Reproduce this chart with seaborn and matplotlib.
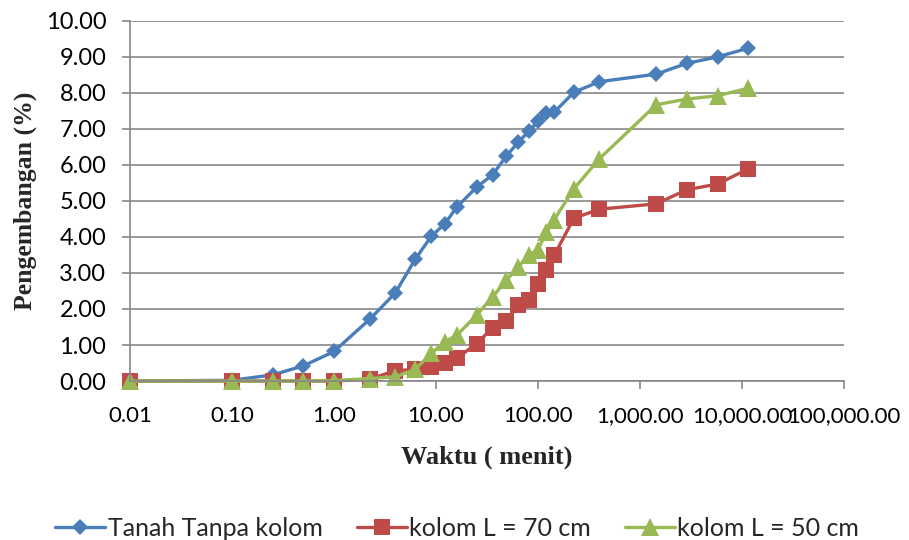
import numpy as np
import pandas as pd
import matplotlib
matplotlib.use('Agg')
import matplotlib.pyplot as plt
import seaborn as sns
from matplotlib.ticker import FixedLocator, FixedFormatter, NullLocator

# data
waktu = [0.01, 0.1, 0.25, 0.5, 1, 2.25, 4, 6.25, 9, 12.25, 16, 25, 36, 49, 64, 81,
         100, 121, 144, 225, 400, 1440, 2880, 5760, 11520]
tanpa_kolom = [0, 0.02, 0.17, 0.42, 0.82, 1.72, 2.45, 3.38, 4.02, 4.37, 4.83, 5.38, 5.73,
               6.25, 6.63, 6.93, 7.21, 7.43, 7.46, 8.02, 8.31, 8.52, 8.82, 9.0, 9.24]
kolom_70 = [0, 0, 0, 0, 0, 0.05, 0.29, 0.32, 0.39, 0.49, 0.63, 1.04, 1.48, 1.66, 2.1,
            2.26, 2.69, 3.07, 3.49, 4.52, 4.77, 4.92, 5.31, 5.47, 5.89]
kolom_50 = [0, 0, 0, 0, 0.01, 0.07, 0.12, 0.32, 0.77, 1.09, 1.27, 1.83, 2.34, 2.8, 3.17,
            3.49, 3.65, 4.14, 4.48, 5.34, 6.17, 7.67, 7.83, 7.92, 8.13]
series_names = ['Tanah Tanpa kolom', 'kolom L = 70 cm', 'kolom L = 50 cm']

x_ticks = [0.01, 0.1, 1, 10, 100, 1000, 10000, 100000]
x_ticklabels = ['0.01', '0.10', '1.00', '10.00', '100.00', '1,000.00', '10,000.00', '100,000.00']
y_ticks = [0, 1, 2, 3, 4, 5, 6, 7, 8, 9, 10]

df = pd.DataFrame({
    'waktu': waktu * 3,
    'nilai': tanpa_kolom + kolom_70 + kolom_50,
    'seri': [series_names[0]] * len(waktu) + [series_names[1]] * len(waktu) + [series_names[2]] * len(waktu),
})

sns.set_style('white')
plt.rcParams['font.family'] = ['Lato', 'DejaVu Sans']

colors = {'Tanah Tanpa kolom': '#4A7EBB', 'kolom L = 70 cm': '#BE4B48', 'kolom L = 50 cm': '#98B954'}
markers = {'Tanah Tanpa kolom': 'D', 'kolom L = 70 cm': 's', 'kolom L = 50 cm': '^'}
msize = {'Tanah Tanpa kolom': 8.5, 'kolom L = 70 cm': 11.5, 'kolom L = 50 cm': 12.5}

fig = plt.figure(figsize=(9.09, 5.4), dpi=100)
ax = fig.add_axes([0.143, 0.2944, 0.7855, 0.667])

for s in series_names:
    sns.lineplot(data=df[df['seri'] == s], x='waktu', y='nilai', ax=ax, color=colors[s],
                 marker=markers[s], markersize=msize[s], markeredgewidth=0, linewidth=2.4,
                 label=s, estimator=None, clip_on=False)

ax.set_xscale('log')
ax.set_xlim(0.01, 100000)
ax.set_ylim(0, 10)
ax.xaxis.set_major_locator(FixedLocator(x_ticks))
ax.xaxis.set_major_formatter(FixedFormatter(x_ticklabels))
ax.xaxis.set_minor_locator(NullLocator())
ax.set_yticks(y_ticks)
ax.set_yticklabels(['%.2f' % v for v in y_ticks])

ax.grid(axis='y', color='#878787', linewidth=1.2)
ax.set_axisbelow(True)
for sp in ['top', 'right']:
    ax.spines[sp].set_visible(False)
for sp in ['left', 'bottom']:
    ax.spines[sp].set_color('#878787')
    ax.spines[sp].set_linewidth(1.2)
ax.tick_params(axis='both', which='major', direction='out', length=6, width=1.2,
               color='#878787', labelsize=17, colors='black')
ax.tick_params(axis='x', pad=12, bottom=True, labelsize=16)
ax.tick_params(axis='y', pad=11, left=True)

ax.set_xlabel('Waktu ( menit)', family='Liberation Serif', fontweight='bold', fontsize=19, labelpad=14)
ax.set_ylabel('Pengembangan (%)', family='Liberation Serif', fontweight='bold', fontsize=18.5, labelpad=6)

handles, labels = ax.get_legend_handles_labels()
ax.legend(handles, labels, loc='center', bbox_to_anchor=(0.503, 0.022),
          bbox_transform=fig.transFigure, ncol=3, frameon=False,
          fontsize=18, handlelength=2.0, handletextpad=0.1, columnspacing=1.35)

fig.savefig('out.png', dpi=100)
